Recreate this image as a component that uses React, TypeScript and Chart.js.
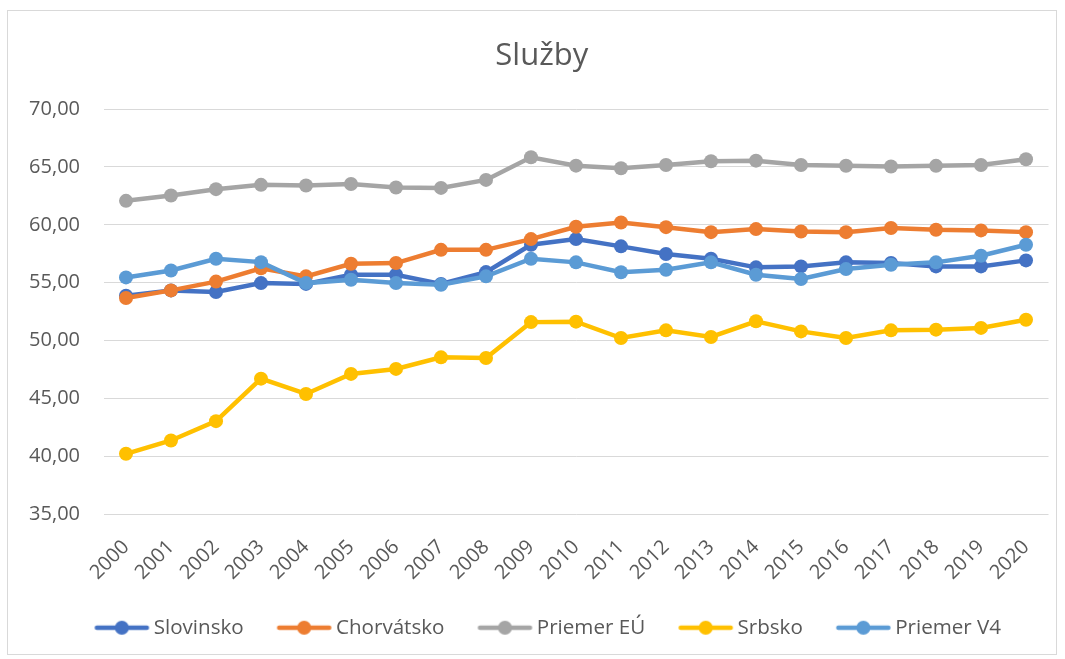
import React, { useEffect, useRef } from 'react';
import { Chart, registerables } from 'chart.js';

Chart.register(...registerables);

const TITLE = 'Služby';
const YEARS = ['2000', '2001', '2002', '2003', '2004', '2005', '2006', '2007', '2008', '2009', '2010',
  '2011', '2012', '2013', '2014', '2015', '2016', '2017', '2018', '2019', '2020'];

const SLOVINSKO = [53.88, 54.34, 54.2, 54.97, 54.9, 55.69, 55.69, 54.9, 55.92, 58.28, 58.77,
  58.14, 57.48, 57.07, 56.33, 56.41, 56.76, 56.7, 56.41, 56.41, 56.93];
const CHORVATSKO = [53.68, 54.34, 55.1, 56.25, 55.55, 56.64, 56.7, 57.84, 57.84, 58.77, 59.83,
  60.2, 59.8, 59.37, 59.63, 59.43, 59.37, 59.72, 59.57, 59.52, 59.37];
const PRIEMER_EU = [62.07, 62.53, 63.08, 63.45, 63.4, 63.53, 63.22, 63.19, 63.88, 65.83, 65.11,
  64.89, 65.17, 65.49, 65.54, 65.17, 65.1, 65.03, 65.09, 65.17, 65.66];
const SRBSKO = [40.23, 41.38, 43.05, 46.72, 45.4, 47.13, 47.56, 48.56, 48.5, 51.6, 51.64,
  50.23, 50.89, 50.32, 51.67, 50.8, 50.23, 50.89, 50.95, 51.1, 51.81];
const PRIEMER_V4 = [55.46, 56.06, 57.07, 56.78, 54.97, 55.26, 54.97, 54.83, 55.55, 57.07, 56.76,
  55.9, 56.12, 56.76, 55.69, 55.32, 56.18, 56.55, 56.76, 57.33, 58.28];

const SERIES_NAMES = ['Slovinsko', 'Chorvátsko', 'Priemer EÚ', 'Srbsko', 'Priemer V4'];
const SERIES_VALUES = [SLOVINSKO, CHORVATSKO, PRIEMER_EU, SRBSKO, PRIEMER_V4];
const SERIES_COLORS = ['#4472C4', '#ED7D31', '#A5A5A5', '#FFC000', '#5B9BD5'];

const Y_MIN = 35;
const Y_MAX = 70;
const Y_STEP = 5;

const TEXT_COLOR = '#595959';
const GRID_COLOR = '#d9d9d9';
const FONT = "'Open Sans', sans-serif";

function legendIcon(color: string): HTMLCanvasElement {
  const c = document.createElement('canvas');
  c.width = 64;
  c.height = 18;
  const ctx = c.getContext('2d')!;
  ctx.strokeStyle = color;
  ctx.lineWidth = 4.5;
  ctx.lineCap = 'round';
  ctx.beginPath();
  ctx.moveTo(10.5, 9);
  ctx.lineTo(60.5, 9);
  ctx.stroke();
  ctx.fillStyle = color;
  ctx.beginPath();
  ctx.arc(35.5, 9, 7, 0, Math.PI * 2);
  ctx.fill();
  return c;
}

const boxShift = {
  id: 'boxShift',
  afterLayout(chart: any) {
    const lg = chart.legend;
    if (lg) {
      lg.left += 19;
      lg.right += 19;
    }
    const tt = chart.titleBlock;
    if (tt) {
      tt.left += 13.5;
      tt.right += 13.5;
    }
  },
};

export default function App() {
  const canvasRef = useRef<HTMLCanvasElement | null>(null);

  useEffect(() => {
    if (!canvasRef.current) return;
    Chart.defaults.font.family = FONT;
    const icons = SERIES_COLORS.map(legendIcon);
    const datasets = SERIES_NAMES.map((name, i) => ({
      label: name,
      data: SERIES_VALUES[i],
      borderColor: SERIES_COLORS[i],
      backgroundColor: SERIES_COLORS[i],
      pointBackgroundColor: SERIES_COLORS[i],
      pointBorderColor: SERIES_COLORS[i],
      borderWidth: 4.5,
      pointRadius: 7,
      pointBorderWidth: 0,
      pointHoverRadius: 7,
      tension: 0,
      fill: false,
      order: SERIES_NAMES.length - 1 - i,
    }));

    const chart = new Chart(canvasRef.current, {
      type: 'line',
      data: { labels: YEARS, datasets },
      plugins: [boxShift],
      options: {
        animation: false,
        responsive: false,
        events: [],
        layout: { padding: { left: 0, right: 7.5, top: 0, bottom: 6 } },
        plugins: {
          title: {
            display: true,
            text: TITLE,
            color: TEXT_COLOR,
            font: { family: FONT, size: 31, weight: 'normal' },
            padding: { top: 27, bottom: 33.8 },
          },
          legend: {
            display: true,
            position: 'bottom',
            labels: {
              color: TEXT_COLOR,
              font: { family: FONT, size: 20.6 },
              usePointStyle: true,
              pointStyleWidth: 50,
              padding: 32,
              generateLabels(ch: any) {
                const items = Chart.defaults.plugins.legend.labels.generateLabels(ch);
                return items.map((it: any) => ({
                  ...it,
                  pointStyle: icons[it.datasetIndex],
                  fontColor: TEXT_COLOR,
                }));
              },
              sort: (a: any, b: any) => a.datasetIndex - b.datasetIndex,
            },
          },
          tooltip: { enabled: false },
        },
        scales: {
          x: {
            type: 'category',
            offset: true,
            grid: { display: false, drawTicks: false },
            border: { display: false },
            ticks: {
              color: TEXT_COLOR,
              font: { family: FONT, size: 20 },
              minRotation: 45,
              maxRotation: 45,
              autoSkip: false,
              padding: 21,
            },
            afterFit: (s: any) => {
              s.height = 71;
              s.paddingLeft = 0;
              s.paddingRight = 0;
            },
          },
          y: {
            min: Y_MIN,
            max: Y_MAX,
            grid: { color: GRID_COLOR, lineWidth: 1, drawTicks: false },
            border: { display: false },
            ticks: {
              stepSize: Y_STEP,
              color: TEXT_COLOR,
              font: { family: FONT, size: 20 },
              padding: 23.5,
              callback: (v: any) => Number(v).toFixed(2).replace('.', ','),
            },
            afterFit: (s: any) => { s.width = 95.5; },
          },
        },
      },
    });
    return () => chart.destroy();
  }, []);

  return (
    <div
      style={{
        position: 'absolute',
        left: 7,
        top: 10,
        width: 1050,
        height: 645,
        boxSizing: 'border-box',
        border: '1px solid #d9d9d9',
        background: '#fff',
      }}
    >
      <canvas ref={canvasRef} width={1048} height={643} style={{ display: 'block' }} />
    </div>
  );
}
